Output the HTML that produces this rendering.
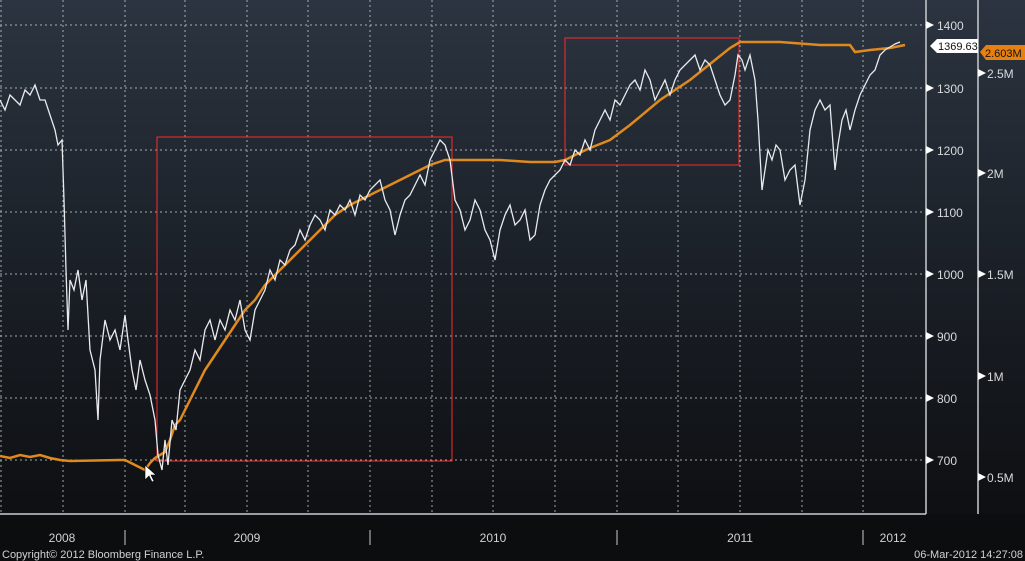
<!DOCTYPE html>
<html><head><meta charset="utf-8"><style>
html,body{margin:0;padding:0;background:#0d0f12;}
svg{display:block;font-family:"Liberation Sans",sans-serif;}
</style></head><body>
<svg width="1025" height="561" viewBox="0 0 1025 561">
<defs><linearGradient id="bg" x1="0" y1="0" x2="0" y2="1">
<stop offset="0" stop-color="#2b3440"/><stop offset="0.5" stop-color="#1a1f26"/><stop offset="1" stop-color="#0b0c0e"/></linearGradient></defs>
<rect width="1025" height="561" fill="url(#bg)"/>
<rect y="515" width="1025" height="46" fill="#0c0d0f"/>
<g stroke="#c8ccd0" stroke-width="1" stroke-dasharray="2,3" opacity="0.8">
<line x1="1" y1="0" x2="1" y2="514"/><line x1="63" y1="0" x2="63" y2="514"/><line x1="125" y1="0" x2="125" y2="514"/><line x1="185" y1="0" x2="185" y2="514"/><line x1="247" y1="0" x2="247" y2="514"/><line x1="308" y1="0" x2="308" y2="514"/><line x1="370" y1="0" x2="370" y2="514"/><line x1="432" y1="0" x2="432" y2="514"/><line x1="493" y1="0" x2="493" y2="514"/><line x1="555" y1="0" x2="555" y2="514"/><line x1="617" y1="0" x2="617" y2="514"/><line x1="678" y1="0" x2="678" y2="514"/><line x1="740" y1="0" x2="740" y2="514"/><line x1="802" y1="0" x2="802" y2="514"/><line x1="863" y1="0" x2="863" y2="514"/>
<line x1="0" y1="25" x2="926" y2="25"/><line x1="0" y1="88" x2="926" y2="88"/><line x1="0" y1="150" x2="926" y2="150"/><line x1="0" y1="212" x2="926" y2="212"/><line x1="0" y1="274" x2="926" y2="274"/><line x1="0" y1="336" x2="926" y2="336"/><line x1="0" y1="398" x2="926" y2="398"/><line x1="0" y1="460" x2="926" y2="460"/>
</g>
<g stroke="#c8ccd0" stroke-width="1.5">
<line x1="926" y1="0" x2="926" y2="514"/><line x1="978" y1="0" x2="978" y2="514"/><line x1="0" y1="514" x2="926" y2="514"/>
</g>
<g fill="#fff">
<polygon points="926,21 934,25 926,29"/><polygon points="926,84 934,88 926,92"/><polygon points="926,146 934,150 926,154"/><polygon points="926,208 934,212 926,216"/><polygon points="926,270 934,274 926,278"/><polygon points="926,332 934,336 926,340"/><polygon points="926,394 934,398 926,402"/><polygon points="926,456 934,460 926,464"/>
<polygon points="978,69 986,73 978,77"/><polygon points="978,169 986,173 978,177"/><polygon points="978,270 986,274 978,278"/><polygon points="978,372 986,376 978,380"/><polygon points="978,473 986,477 978,481"/>
</g>
<g fill="#d8dadc" font-size="12">
<text x="937" y="30">1400</text><text x="937" y="93">1300</text><text x="937" y="155">1200</text><text x="937" y="217">1100</text><text x="937" y="279">1000</text><text x="937" y="341">900</text><text x="937" y="403">800</text><text x="937" y="465">700</text>
<text x="987" y="78">2.5M</text><text x="987" y="178">2M</text><text x="987" y="279">1.5M</text><text x="987" y="381">1M</text><text x="987" y="482">0.5M</text>
</g>
<rect x="157" y="137" width="295" height="324" fill="none" stroke="#ff2a2a" stroke-width="1"/>
<rect x="565" y="38" width="174" height="127" fill="none" stroke="#ff2a2a" stroke-width="1"/>
<polyline fill="none" stroke="#e08a1e" stroke-width="2.5" points="0,456 10,458 20,455 30,457 40,455 50,458 60,460 70,461 120,460 125,460 135,465 145,470 150,463 155,458 160,455 165,452 170,440 175,425 180,420 185,410 195,390 205,370 215,355 225,340 235,325 245,310 255,300 265,285 275,275 285,265 300,250 310,240 320,230 335,215 350,205 370,195 390,185 410,175 430,165 445,160 460,160 500,160 530,162 555,162 565,160 575,155 590,148 610,140 630,125 660,100 690,80 715,60 730,48 740,42 780,42 820,45 850,45 855,52 870,50 890,48 905,45"/>
<polyline fill="none" stroke="#e8eaee" stroke-width="1.3" points="0,100 5,110 10,95 20,105 25,90 30,95 35,85 40,100 45,100 50,115 55,130 58,145 62,140 64,200 66,270 68,330 70,280 74,290 78,270 82,300 86,280 90,350 95,370 98,420 100,360 105,320 110,340 115,330 120,350 125,315 128,340 132,370 136,390 140,360 145,380 150,395 155,420 158,455 162,470 165,440 168,465 172,420 176,430 180,390 185,380 190,370 195,350 200,360 205,330 210,320 215,340 220,320 225,330 230,310 235,320 240,300 245,330 250,340 255,310 260,300 265,290 270,270 275,280 280,260 285,265 290,250 295,245 300,230 305,240 310,225 315,215 320,220 325,230 330,210 335,215 340,205 345,210 350,200 355,215 360,195 365,200 370,190 375,185 380,180 385,200 390,210 395,235 400,215 405,200 410,195 415,185 420,175 425,185 430,160 435,150 440,140 445,145 450,160 455,200 460,210 465,230 470,220 475,200 480,210 485,230 490,240 495,260 500,230 505,215 510,205 515,225 520,220 525,210 530,240 535,235 540,205 545,190 550,180 555,175 560,170 565,160 570,165 575,150 580,155 585,140 590,150 595,130 600,120 605,110 610,120 615,100 620,105 625,95 630,85 635,80 640,90 645,70 650,80 655,100 660,90 665,80 670,95 675,80 680,70 685,65 690,60 695,55 700,70 705,60 710,65 715,80 720,95 725,105 730,100 735,75 738,55 742,60 745,70 750,55 755,80 758,120 762,190 765,170 768,150 772,160 776,145 780,150 785,180 790,170 795,165 800,205 805,180 810,130 815,110 820,100 825,110 830,105 835,170 838,145 842,120 846,110 850,130 855,110 860,95 865,85 870,75 875,70 880,55 885,50 890,47 895,44 900,42"/>
<polygon points="145,465 145,480 149,476 152,482 154,481 151,475 156,475" fill="#fff" stroke="#000" stroke-width="0.6"/>
<polygon points="930,46 937,39 978,39 978,53 937,53" fill="#fff"/>
<text x="938" y="50" font-size="11" fill="#111">1369.63</text>
<polygon points="980,52 986,45 1025,45 1025,60 986,60" fill="#e8800f"/>
<text x="985" y="57" font-size="11" fill="#111">2.603M</text>
<g stroke="#c8ccd0" stroke-width="1"><line x1="125" y1="530" x2="125" y2="545"/><line x1="370" y1="530" x2="370" y2="545"/><line x1="617" y1="530" x2="617" y2="545"/><line x1="863" y1="530" x2="863" y2="545"/></g>
<g fill="#d0d2d4" font-size="12" text-anchor="middle">
<text x="62" y="542">2008</text><text x="247" y="542">2009</text><text x="493" y="542">2010</text><text x="740" y="542">2011</text><text x="893" y="542">2012</text>
</g>
<text x="2" y="558" font-size="11" fill="#d0d2d4">Copyright© 2012 Bloomberg Finance L.P.</text>
<text x="1023" y="558" font-size="11" fill="#d0d2d4" text-anchor="end">06-Mar-2012 14:27:08</text>
</svg>
</body></html>
